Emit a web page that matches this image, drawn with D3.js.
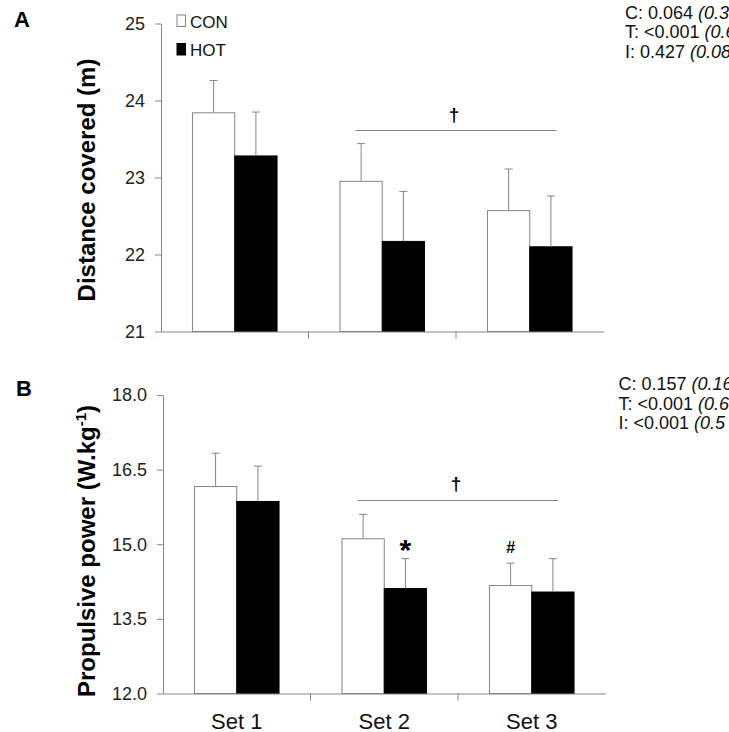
<!DOCTYPE html>
<html>
<head>
<meta charset="utf-8">
<script src="https://cdn.jsdelivr.net/npm/d3@7"></script>
<style>
  body { margin: 0; background: #fff; }
  svg { display: block; font-family: "Liberation Sans", Arial, sans-serif; }
</style>
</head>
<body>
<script>
// categories and groups
var sets = ["Set 1", "Set 2", "Set 3"];
var groups = ["CON", "HOT"];

// panel A - distance covered (m)
var distCon = [23.84, 22.95, 22.57];
var distConSD = [0.42, 0.49, 0.54];
var distHot = [23.28, 22.17, 22.10];
var distHotSD = [0.57, 0.65, 0.66];
var distTicks = [21, 22, 23, 24, 25];
var distBracket = 23.61;
// stats text, cut at the right edge as in the figure
var distStats = [["C: 0.064 ", "(0.3"], ["T: <0.001 ", "(0.6"], ["I: 0.427 ", "(0.08"]];

// panel B - propulsive power (W.kg-1)
var powCon = [16.16, 15.11, 14.17];
var powConSD = [0.67, 0.49, 0.45];
var powHot = [15.86, 14.11, 14.04];
var powHotSD = [0.71, 0.60, 0.67];
var powTicks = [12.0, 13.5, 15.0, 16.5, 18.0];
var powBracket = 15.88;
var powStats = [["C: 0.157 ", "(0.16"], ["T: <0.001 ", "(0.6"], ["I: <0.001  ", "(0.5"]];
var powMarks = [{set: "Set 2", group: "HOT", sym: "*"}, {set: "Set 3", group: "CON", sym: "#"}];

var grey = "#858585";

var svg = d3.select("body")
  .append("svg")
  .attr("width", 729)
  .attr("height", 732);

function drawPanel(o) {
  var width = 442.5;
  var g = svg.append("g").attr("transform", "translate(" + o.left + "," + o.top + ")");

  var x0 = d3.scaleBand().domain(sets).range([0, width]).padding(0);
  var x1 = d3.scaleBand().domain(groups).range([0, x0.bandwidth()])
    .paddingInner(0).paddingOuter(0.744);
  var y = d3.scaleLinear().domain(o.domain).range([o.height, 0]);

  var rows = sets.map(function(s, i) {
    return {set: s, vals: [
      {g: "CON", v: o.con[i], sd: o.conSD[i]},
      {g: "HOT", v: o.hot[i], sd: o.hotSD[i]}
    ]};
  });

  // y axis
  var yAxis = g.append("g")
    .call(d3.axisLeft(y).tickValues(o.ticks).tickFormat(o.fmt)
      .tickSizeInner(6).tickSizeOuter(0).tickPadding(10));
  yAxis.select(".domain").attr("stroke", grey);
  yAxis.selectAll(".tick line").attr("stroke", grey);
  yAxis.selectAll(".tick text").attr("fill", "#222").style("font-size", "18px");

  // bars
  var grp = g.selectAll(".set").data(rows).enter().append("g")
    .attr("transform", function(d) { return "translate(" + x0(d.set) + ",0)"; });

  grp.selectAll("rect").data(function(d) { return d.vals; }).enter().append("rect")
    .attr("x", function(d) { return x1(d.g); })
    .attr("y", function(d) { return y(d.v); })
    .attr("width", x1.bandwidth())
    .attr("height", function(d) { return o.height - y(d.v); })
    .attr("fill", function(d) { return d.g === "CON" ? "#fff" : "#000"; })
    .attr("stroke", function(d) { return d.g === "CON" ? grey : "#000"; })
    .attr("stroke-width", 1);

  // error bars (upper only)
  grp.selectAll(".err").data(function(d) { return d.vals; }).enter().append("line")
    .attr("x1", function(d) { return x1(d.g) + x1.bandwidth() / 2; })
    .attr("x2", function(d) { return x1(d.g) + x1.bandwidth() / 2; })
    .attr("y1", function(d) { return y(d.v); })
    .attr("y2", function(d) { return y(d.v + d.sd); })
    .attr("stroke", grey);
  grp.selectAll(".cap").data(function(d) { return d.vals; }).enter().append("line")
    .attr("x1", function(d) { return x1(d.g) + x1.bandwidth() / 2 - 4; })
    .attr("x2", function(d) { return x1(d.g) + x1.bandwidth() / 2 + 4; })
    .attr("y1", function(d) { return y(d.v + d.sd); })
    .attr("y2", function(d) { return y(d.v + d.sd); })
    .attr("stroke", grey);

  // x axis
  var xAxis = g.append("g")
    .attr("transform", "translate(0," + o.height + ")")
    .call(d3.axisBottom(x0).tickSize(0).tickPadding(20));
  xAxis.select(".domain").attr("stroke", grey);
  xAxis.selectAll(".tick text").attr("fill", "#111").style("font-size", "22px")
    .text(function(d) { return o.showLabels ? d : ""; });
  xAxis.selectAll(".sep").data(sets.slice(1)).enter().append("line")
    .attr("x1", function(d) { return x0(d); })
    .attr("x2", function(d) { return x0(d); })
    .attr("y1", 0).attr("y2", 7)
    .attr("stroke", grey);

  // bracket Set 2 - Set 3
  var bx1 = x0("Set 2") + 0.32 * x0.bandwidth();
  var bx2 = x0("Set 3") + 0.68 * x0.bandwidth();
  g.append("line")
    .attr("x1", bx1).attr("x2", bx2)
    .attr("y1", y(o.bracket)).attr("y2", y(o.bracket))
    .attr("stroke", grey);
  g.append("text")
    .attr("x", (bx1 + bx2) / 2 - 2)
    .attr("y", y(o.bracket) - 10)
    .attr("text-anchor", "middle")
    .style("font-size", "19px")
    .style("font-weight", "bold")
    .text("\u2020");

  // significance marks
  (o.marks || []).forEach(function(m) {
    var i = sets.indexOf(m.set);
    var v = m.group === "CON" ? o.con[i] + o.conSD[i] : o.hot[i] + o.hotSD[i];
    g.append("text")
      .attr("x", x0(m.set) + x1(m.group) + x1.bandwidth() / 2)
      .attr("y", m.sym === "*" ? y(v) + 1 : y(v) - 10)
      .attr("text-anchor", "middle")
      .style("font-size", m.sym === "*" ? "30px" : "16px")
      .style("font-weight", "bold")
      .text(m.sym);
  });

  // y title
  var t = svg.append("text")
    .attr("transform", "translate(95," + o.titleY + ") rotate(-90)")
    .attr("text-anchor", "middle")
    .style("font-size", "24px")
    .style("font-weight", "bold");
  t.append("tspan").text(o.title);
  if (o.sup) {
    t.append("tspan").attr("dy", -9).style("font-size", "15px").text(o.sup);
    t.append("tspan").attr("dy", 9).text(")");
  }

  // panel letter
  svg.append("text")
    .attr("x", o.letterX).attr("y", o.letterY)
    .style("font-size", "22px").style("font-weight", "bold")
    .text(o.letter);

  // stats text
  svg.selectAll(null).data(o.stats).enter().append("text")
    .attr("x", o.statsX)
    .attr("y", function(d, i) { return o.statsY + i * 19.5; })
    .style("font-size", "18px")
    .attr("fill", "#111")
    .each(function(d) {
      d3.select(this).append("tspan").text(d[0]);
      d3.select(this).append("tspan").style("font-style", "italic").text(d[1]);
    });
}

drawPanel({
  left: 161, top: 23.5, height: 308, domain: [21, 25],
  ticks: distTicks, fmt: d3.format("d"),
  con: distCon, conSD: distConSD, hot: distHot, hotSD: distHotSD,
  bracket: distBracket, showLabels: false,
  title: "Distance covered (m)", titleY: 180,
  letter: "A", letterX: 14, letterY: 27,
  stats: distStats, statsX: 625, statsY: 18.5
});

drawPanel({
  left: 163, top: 395, height: 298.5, domain: [12, 18],
  ticks: powTicks, fmt: d3.format(".1f"),
  con: powCon, conSD: powConSD, hot: powHot, hotSD: powHotSD,
  bracket: powBracket, showLabels: true, marks: powMarks,
  title: "Propulsive power (W.kg", sup: "-1", titleY: 551,
  letter: "B", letterX: 16, letterY: 396,
  stats: powStats, statsX: 618.5, statsY: 390
});

// legend
var legend = svg.append("g").attr("transform", "translate(177,15)");
legend.selectAll("rect").data(groups).enter().append("rect")
  .attr("x", 0)
  .attr("y", function(d, i) { return i * 28.5; })
  .attr("width", 8.5).attr("height", 11.5)
  .attr("fill", function(d) { return d === "CON" ? "#fff" : "#000"; })
  .attr("stroke", function(d) { return d === "CON" ? grey : "#000"; });
legend.selectAll("text").data(groups).enter().append("text")
  .attr("x", 13)
  .attr("y", function(d, i) { return 13 + i * 27.5; })
  .style("font-size", "17px")
  .attr("fill", "#111")
  .text(function(d) { return d; });
</script>
</body>
</html>
